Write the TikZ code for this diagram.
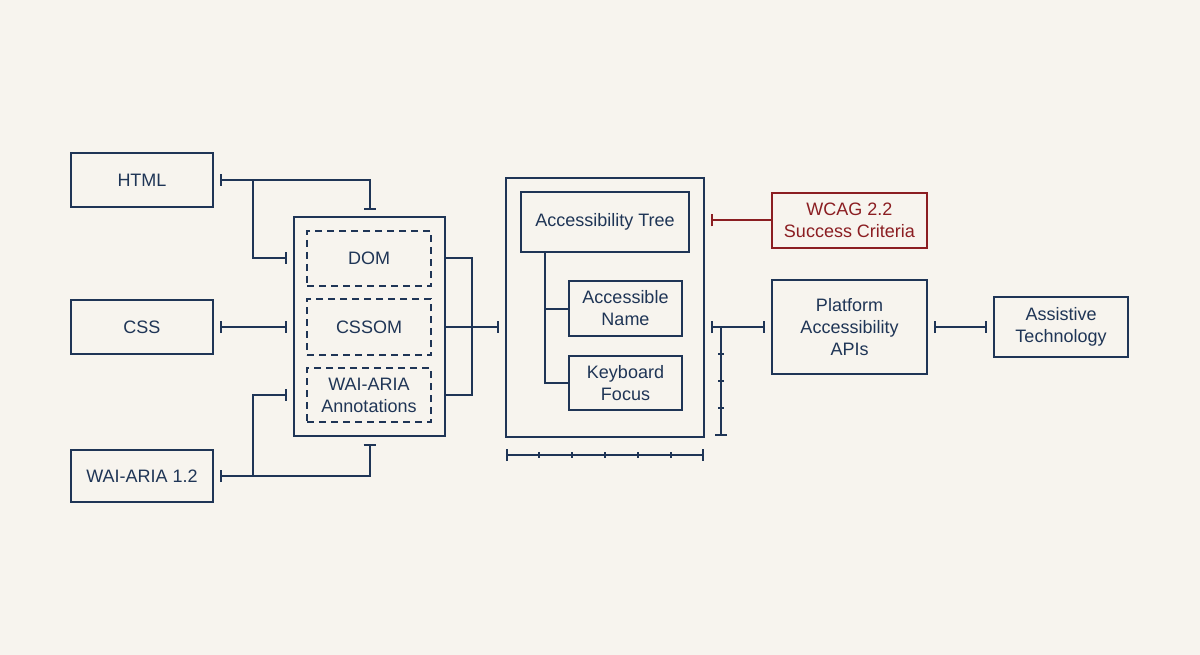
\documentclass[tikz,border=0pt]{standalone}
\usepackage{fontspec}
\setmainfont{Liberation Sans}
\usetikzlibrary{arrows.meta}
\definecolor{navy}{HTML}{1F3556}
\definecolor{wred}{HTML}{8B1E22}
\definecolor{paper}{HTML}{F7F4EE}
\begin{document}
\begin{tikzpicture}[x=1pt,y=-1pt,
  every node/.style={font=\fontsize{18}{22}\selectfont, text=navy, align=center, inner sep=0pt},
  box/.style={draw=navy, line width=2pt, rectangle},
  dbox/.style={draw=navy, line width=1.8pt, rectangle, dash pattern=on 7pt off 5pt},
  conn/.style={draw=navy, line width=2pt},
  bb/.style={conn, {Bar[width=12pt]}-{Bar[width=12pt]}},
  eb/.style={conn, -{Bar[width=12pt]}},
  tk/.style={conn, line width=1.5pt}]
\fill[paper] (0,0) rectangle (1200,655);
\useasboundingbox (0,0) rectangle (1200,655);
% left sources
\node[box, minimum width=142pt, minimum height=54pt] (html) at (142,180) {HTML};
\node[box, minimum width=142pt, minimum height=54pt] (css) at (142,327) {CSS};
\node[box, minimum width=142pt, minimum height=52pt] (aria) at (142,476) {WAI-ARIA 1.2};
% middle container
\node[box, minimum width=151pt, minimum height=219pt] (mid) at (369.5,326.5) {};
\node[dbox, minimum width=124pt, minimum height=55pt] (dom) at (369,258.5) {DOM};
\node[dbox, minimum width=124pt, minimum height=56pt] (cssom) at (369,327) {CSSOM};
\node[dbox, minimum width=124pt, minimum height=54pt] (waiann) at (369,395) {WAI-ARIA\\Annotations};
% tree container
\node[box, minimum width=198pt, minimum height=259pt] (treebox) at (505,177) [anchor=north west] {};
\node[box, minimum width=168pt, minimum height=60pt] (acctree) at (605,222) {Accessibility Tree};
\node[box, minimum width=113pt, minimum height=55pt] (accname) at (625.5,308.5) {Accessible\\Name};
\node[box, minimum width=113pt, minimum height=54pt] (kbd) at (625.5,383) {Keyboard\\Focus};
% right side
\node[draw=wred, line width=2pt, minimum width=155pt, minimum height=55pt, text=wred] (wcag) at (849.5,220.5) {WCAG 2.2\\Success Criteria};
\node[box, minimum width=155pt, minimum height=94pt] (platform) at (849.5,327) {Platform\\Accessibility\\APIs};
\node[box, minimum width=134pt, minimum height=60pt] (assist) at (1061,327) {Assistive\\Technology};
% HTML connector
\coordinate (hj) at (253,180);
\draw[bb, shorten <=6pt, shorten >=6pt] (html.east) -| (mid.north);
\draw[eb, shorten >=6pt] (hj) |- (dom.west -| mid.west);
% CSS connector
\draw[bb, shorten <=6pt, shorten >=6pt] (css.east) -- (css.east -| mid.west);
% ARIA connector
\coordinate (aj) at (253,476);
\draw[bb, shorten <=6pt, shorten >=7pt] (aria.east) -| (mid.south);
\draw[eb, shorten >=6pt] (aj) |- (waiann.west -| mid.west);
% middle right bracket
\coordinate (mr) at (472,258.5);
\draw[conn] (dom.east -| mid.east) -- (mr) |- (waiann.east -| mid.east);
\draw[eb, shorten >=6pt] (cssom.east -| mid.east) -- (cssom.east -| treebox.west);
% tree lines
\coordinate (tj) at (545,252);
\draw[conn] (acctree.south -| tj) |- (accname.west);
\draw[conn] (acctree.south -| tj) |- (kbd.west);
% WCAG connector
\draw[conn, draw=wred, -{Bar[width=12pt]}, shorten >=6pt] (wcag.west) -- (wcag.west -| treebox.east);
% platform connectors
\draw[bb, shorten <=6pt, shorten >=6pt] (platform.west -| treebox.east) -- (platform.west);
\draw[bb, shorten <=6pt, shorten >=6pt] (platform.east) -- (assist.west);
% vertical scale
\coordinate (vs) at (721,327);
\coordinate (ve) at (721,436);
\draw[eb] (vs) -- (ve);
\foreach \y in {354,381,408} \draw[tk] (718,\y) -- (724,\y);
% horizontal scale
\coordinate (hs) at (506,455);
\coordinate (he) at (704,455);
\draw[bb] (hs) -- (he);
\foreach \x in {539,572,605,638,671} \draw[tk] (\x,452) -- (\x,458);
\end{tikzpicture}
\end{document}
